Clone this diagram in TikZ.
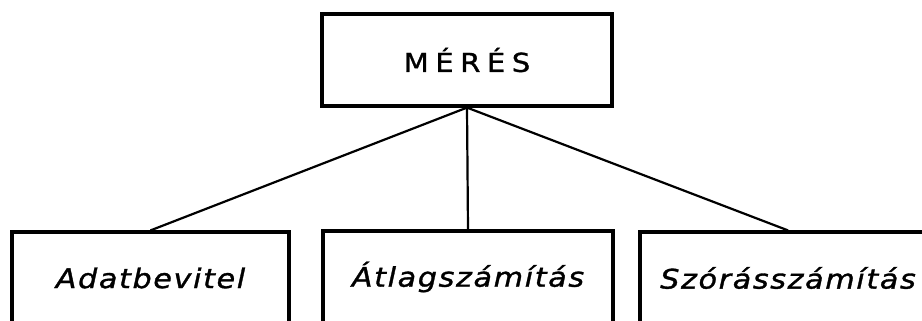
\documentclass[tikz,border=0pt]{standalone}
\usepackage{fontspec}
\setmainfont{DejaVu Sans}
\begin{document}
\begin{tikzpicture}[x=1pt,y=-1pt,
  boxst/.style={draw=black, line width=3.2pt, rectangle, inner sep=0pt, minimum height=92pt},
  topfont/.style={font=\fontsize{26}{31}\selectfont\addfontfeatures{LetterSpace=25,FakeBold=1.2,FakeStretch=1.12}},
  botfont/.style={font=\fontsize{27}{32}\selectfont\itshape\addfontfeatures{LetterSpace=6,FakeBold=1.2,FakeStretch=1.12}},
  conn/.style={line width=2.2pt}]
\useasboundingbox (0,0) rectangle (922,321);
\clip (0,0) rectangle (922,321);
\fill[white] (0,0) rectangle (922,321);
\node[boxst, minimum width=290pt, topfont] (mer) at (467,60) {MÉRÉS};
\node[boxst, minimum width=277pt, botfont] (a) at (150.5,278) {Adatbevitel};
\node[boxst, minimum width=290pt, botfont] (b) at (468,277) {Átlagszámítás};
\node[boxst, minimum width=296pt, botfont] (c) at (788,278) {Szórásszámítás};
\draw[conn] (mer.south) -- (a.north);
\draw[conn] (mer.south) -- (b.north);
\draw[conn] (mer.south) -- (c.north);
\end{tikzpicture}
\end{document}
